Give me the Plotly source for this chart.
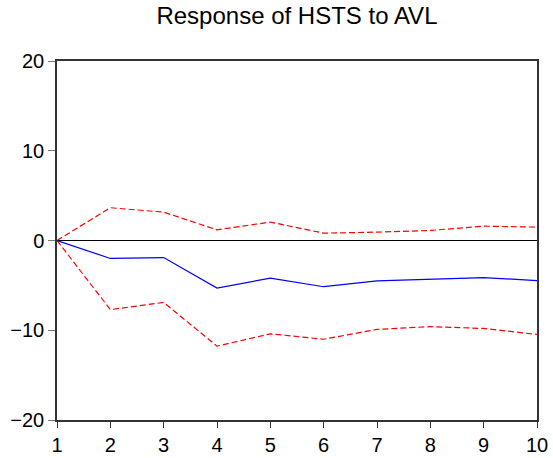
import plotly.graph_objects as go

periods = [1, 2, 3, 4, 5, 6, 7, 8, 9, 10]
response = [0.0, -2.0, -1.9, -5.3, -4.2, -5.15, -4.5, -4.28, -4.13, -4.47]
upper_band = [0.0, 3.65, 3.16, 1.19, 2.05, 0.82, 0.93, 1.12, 1.6, 1.49]
lower_band = [0.0, -7.7, -6.9, -11.77, -10.4, -11.0, -9.9, -9.6, -9.8, -10.47]
y_ticks = [-20, -10, 0, 10, 20]

fig = go.Figure()
fig.add_trace(go.Scatter(x=periods, y=upper_band, mode="lines",
                         line=dict(color="#FF0000", width=1.2, dash="6px,3px"),
                         showlegend=False))
fig.add_trace(go.Scatter(x=periods, y=lower_band, mode="lines",
                         line=dict(color="#FF0000", width=1.2, dash="6px,3px"),
                         showlegend=False))
fig.add_trace(go.Scatter(x=periods, y=response, mode="lines",
                         line=dict(color="#0000FF", width=1.2),
                         showlegend=False))

fig.update_layout(
    width=553, height=458,
    margin=dict(l=57, r=16, t=61, b=38, autoexpand=False),
    paper_bgcolor="white", plot_bgcolor="white",
    font=dict(family="Arial, Liberation Sans, sans-serif", color="black"),
    title=dict(text="Response of HSTS to AVL", x=0.537, xanchor="center",
               y=0.965, yanchor="middle", font=dict(size=24, color="black")),
    xaxis=dict(range=[1, 10], tickvals=periods, ticks="outside", ticklen=6,
               tickcolor="#333333", tickwidth=1, showgrid=False, zeroline=False,
               showline=True, linecolor="#333333", linewidth=2, mirror=True,
               automargin=False, tickfont=dict(size=20, color="black")),
    yaxis=dict(range=[-20, 20], tickvals=y_ticks, ticks="outside", ticklen=7,
               tickcolor="#777777", tickwidth=1, showgrid=False,
               zeroline=True, zerolinecolor="black", zerolinewidth=1,
               showline=True, linecolor="#333333", linewidth=1.5, mirror=True,
               automargin=False, tickfont=dict(size=20, color="black")),
)

fig.write_html("out.html")
